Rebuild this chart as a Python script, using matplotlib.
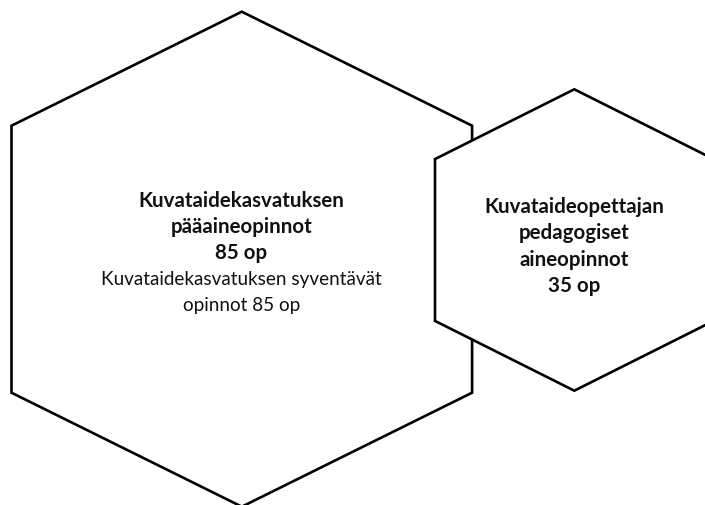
import matplotlib
matplotlib.use("Agg")
from matplotlib import pyplot as plt
from matplotlib.patches import Polygon

# texts of the two hexagons
big_bold = ["Kuvataidekasvatuksen", "pääaineopinnot", "85 op"]
big_plain = ["Kuvataidekasvatuksen syventävät", "opinnot 85 op"]
small_bold = ["Kuvataideopettajan", "pedagogiset", "aineopinnot", "35 op"]

plt.rcParams['font.family'] = ['Lato', 'DejaVu Sans']


def hexagon(cx, cy, half_w, side_half, tip):
    """pointy-top hexagon, tip = distance center -> top vertex"""
    return [(cx, cy - tip), (cx + half_w, cy - side_half),
            (cx + half_w, cy + side_half), (cx, cy + tip),
            (cx - half_w, cy + side_half), (cx - half_w, cy - side_half)]


def draw_lines(ax, x, y0, step, lines, weight, size):
    for i, line in enumerate(lines):
        ax.text(x, y0 + i * step, line, ha='center', va='center',
                fontsize=size, fontweight=weight, color='#111111', zorder=3)


fig = plt.figure(figsize=(7.05, 5.05), dpi=100)
ax = fig.add_axes([0, 0, 1, 1])
ax.set_xlim(0, 705)
ax.set_ylim(505, 0)
ax.axis('off')

big = Polygon(hexagon(241.8, 259.2, 230.3, 133.5, 247.5), closed=True,
              facecolor='white', edgecolor='black', linewidth=1.9, zorder=1)
small = Polygon(hexagon(574.3, 240.0, 139.3, 80.9, 150.7), closed=True,
                facecolor='white', edgecolor='black', linewidth=1.9, zorder=2)
ax.add_patch(big)
ax.add_patch(small)

draw_lines(ax, 241.5, 201, 26, big_bold, 'bold', 14.8)
draw_lines(ax, 241.5, 279, 26, big_plain, 'normal', 13.6)
draw_lines(ax, 574, 207, 26.3, small_bold, 'bold', 14.8)

fig.savefig('out.png', dpi=100)
